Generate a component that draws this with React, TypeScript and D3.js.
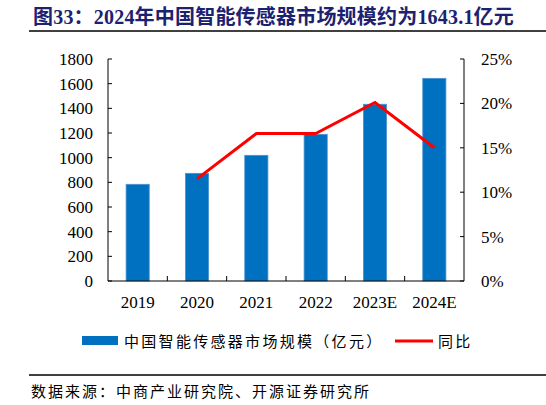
import React, { useEffect } from "react";
import * as d3 from "d3";

const years = ["2019", "2020", "2021", "2022", "2023E", "2024E"];
const marketSize = [784, 873, 1019, 1189, 1433, 1643.1];
// growth rate (%), 2019 has no value
const yoy = [null, 11.5, 16.6, 16.6, 20.1, 15.0];
const leftTicks = [0, 200, 400, 600, 800, 1000, 1200, 1400, 1600, 1800];
const rightTicks = [0, 5, 10, 15, 20, 25];

const W = 546;
const H = 405;
const margin = { top: 59, right: 82, bottom: 124, left: 108 };
const latin = "'Liberation Serif', 'Noto Sans CJK SC', serif";
const cjk = "'Noto Sans CJK SC', 'Liberation Serif', sans-serif";

export default function App() {
  useEffect(() => {
    document.body.style.margin = "0";
  }, []);

  const x = d3
    .scaleBand()
    .domain(years)
    .range([margin.left, W - margin.right])
    .paddingInner(0.61)
    .paddingOuter(0.305);
  const step = x.step();
  const yL = d3.scaleLinear().domain([0, 1800]).range([H - margin.bottom, margin.top]);
  const yR = d3.scaleLinear().domain([0, 25]).range([H - margin.bottom, margin.top]);

  const pts = years
    .map((yr, i) => ({ yr, v: yoy[i] }))
    .filter((d) => d.v !== null) as { yr: string; v: number }[];
  const line = d3
    .line<{ yr: string; v: number }>()
    .x((d) => x(d.yr)! + x.bandwidth() / 2)
    .y((d) => yR(d.v));

  const baseY = yL(0);
  const xLeft = margin.left;
  const xRight = W - margin.right;

  return (
    <svg width={W} height={H} style={{ display: "block" }}>
      <rect width={W} height={H} fill="#fff" />
      {/* title */}
      <text x={33} y={24} fill="#1c2270" fontSize={20} fontWeight="bold" letterSpacing={0.2} fontFamily={latin}>
        图33：2024年中国智能传感器市场规模约为1643.1亿元
      </text>
      <line x1={29} x2={W} y1={31} y2={31} stroke="#000" strokeWidth={1.3} />

      {/* bars */}
      {marketSize.map((v, i) => (
        <rect
          key={years[i]}
          x={x(years[i])}
          y={yL(v)}
          width={x.bandwidth()}
          height={baseY - yL(v)}
          fill="#0070c0"
          stroke="#4a93d0"
          strokeWidth={0.8}
        />
      ))}

      {/* axes */}
      <line x1={xLeft} x2={xLeft} y1={yL(1800)} y2={baseY} stroke="#000" />
      <line x1={xRight} x2={xRight} y1={yR(25)} y2={baseY} stroke="#000" />
      <line x1={xLeft} x2={xRight} y1={baseY} y2={baseY} stroke="#000" />
      {leftTicks.map((t) => (
        <g key={"l" + t}>
          <line x1={xLeft} x2={xLeft + 4} y1={yL(t)} y2={yL(t)} stroke="#000" />
          <text x={93} y={yL(t)} dy="0.35em" textAnchor="end" fontSize={17} fontFamily={latin} fill="#000">
            {t}
          </text>
        </g>
      ))}
      {rightTicks.map((t) => (
        <g key={"r" + t}>
          <line x1={xRight - 4} x2={xRight} y1={yR(t)} y2={yR(t)} stroke="#000" />
          <text x={481} y={yR(t)} dy="0.35em" fontSize={17} fontFamily={latin} fill="#000">
            {t}%
          </text>
        </g>
      ))}
      {years.slice(1).map((yr) => (
        <line
          key={"t" + yr}
          x1={x(yr)! - (step - x.bandwidth()) / 2}
          x2={x(yr)! - (step - x.bandwidth()) / 2}
          y1={baseY}
          y2={baseY - 5}
          stroke="#000"
        />
      ))}
      {years.map((yr) => (
        <text
          key={"x" + yr}
          x={x(yr)! + x.bandwidth() / 2}
          y={308}
          textAnchor="middle"
          fontSize={17}
          fontFamily={latin}
          fill="#000"
        >
          {yr}
        </text>
      ))}

      {/* yoy line */}
      <path d={line(pts)!} fill="none" stroke="#ff0000" strokeWidth={3} />

      {/* legend */}
      <rect x={82} y={336} width={36} height={9} fill="#0070c0" />
      <text x={124} y={347} fontSize={15} letterSpacing={2.3} fontFamily={cjk} fill="#000">
        中国智能传感器市场规模（亿元）
      </text>
      <line x1={395} x2={433} y1={341} y2={341} stroke="#ff0000" strokeWidth={3} />
      <text x={438} y={347} fontSize={15} letterSpacing={2.3} fontFamily={cjk} fill="#000">
        同比
      </text>

      {/* source */}
      <line x1={29} x2={W} y1={375} y2={375} stroke="#000" strokeWidth={1.3} />
      <text x={31} y={397} fontSize={15} letterSpacing={2} fontFamily={cjk} fill="#000">
        数据来源：中商产业研究院、开源证券研究所
      </text>
    </svg>
  );
}
